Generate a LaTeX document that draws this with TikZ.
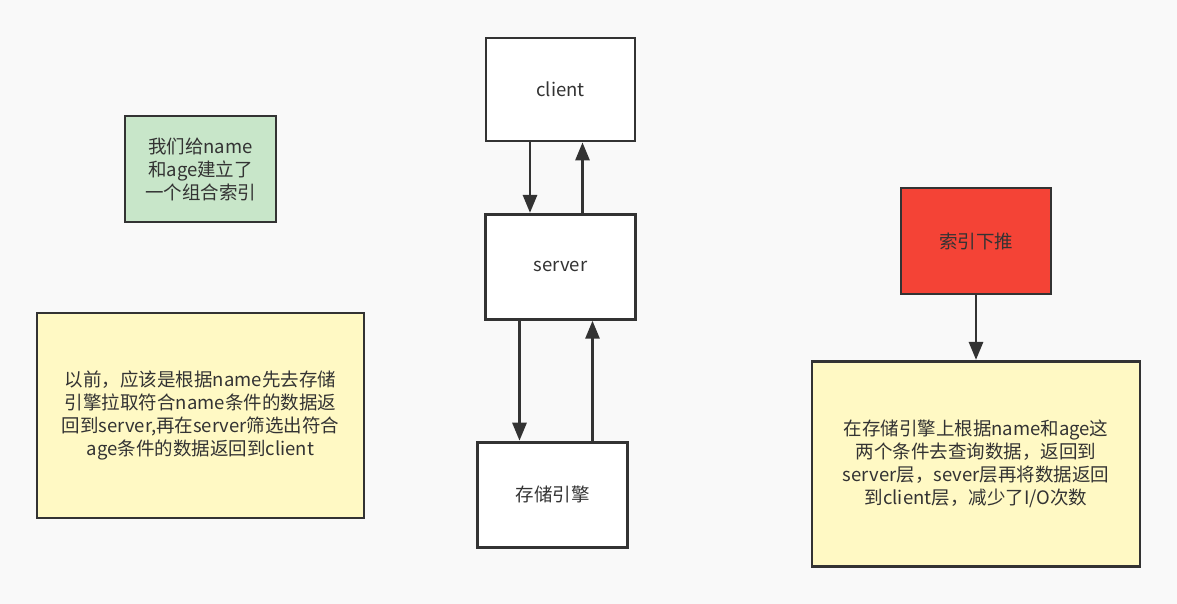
\documentclass[tikz,border=0pt]{standalone}
\usepackage{fontspec}
\setmainfont{Noto Sans CJK SC}
\usepackage{xcolor}
\usetikzlibrary{arrows.meta,positioning}

\definecolor{bgcol}{HTML}{F9F9F9}
\definecolor{linecol}{HTML}{333333}
\definecolor{notegreen}{HTML}{C8E6C9}
\definecolor{noteyellow}{HTML}{FFF9C4}
\definecolor{pushred}{HTML}{F44336}

\begin{document}
\begin{tikzpicture}[
  x=1pt, y=-1pt,
  box/.style={draw=linecol, line width=2.8pt, fill=white, align=center, text=linecol,
    font=\fontsize{18.5}{23}\selectfont, minimum width=150pt, minimum height=105pt, inner sep=0pt},
  note/.style={box, fill=noteyellow, minimum width=327pt, minimum height=205pt},
  arr/.style={-{Triangle[length=18pt,width=14pt]}, draw=linecol, line width=2.8pt}
]
  \fill[bgcol] (0,0) rectangle (1177,604);
  \useasboundingbox (0,0) rectangle (1177,604);

  % middle column
  \node[box, minimum width=149pt, minimum height=103pt] (client) at (560.5,89.5) {client};
  \node[box, below=70.5pt of client] (server) {server};
  \node[box, below=120pt of server, xshift=-8pt] (engine) {存储引擎};

  % notes on the left
  \node[box, fill=notegreen, minimum width=151pt, minimum height=106pt] (index) at (200.5,169)
    {我们给name\\和age建立了\\一个组合索引};
  \node[note] (before) at (200.5,415.5)
    {以前，应该是根据name先去存储\\引擎拉取符合name条件的数据返\\回到server,再在server筛选出符合\\age条件的数据返回到client};

  % right side
  \node[box, fill=pushred, minimum height=106pt] (push) at (976,241) {索引下推};
  \node[note, minimum width=328pt, below=64.5pt of push] (after)
    {在存储引擎上根据name和age这\\两个条件去查询数据，返回到\\server层，sever层再将数据返回\\到client层，减少了I/O次数};

  \draw[arr] ([xshift=-30.5pt]client.south) -- ([xshift=-30.5pt]client.south |- server.north);
  \draw[arr] ([xshift=22pt]server.north) -- ([xshift=22pt]server.north |- client.south);
  \draw[arr] ([xshift=-41pt]server.south) -- ([xshift=-41pt]server.south |- engine.north);
  \draw[arr] ([xshift=40pt]engine.north) -- ([xshift=40pt]engine.north |- server.south);
  \draw[arr] (push) -- (after);
\end{tikzpicture}
\end{document}
